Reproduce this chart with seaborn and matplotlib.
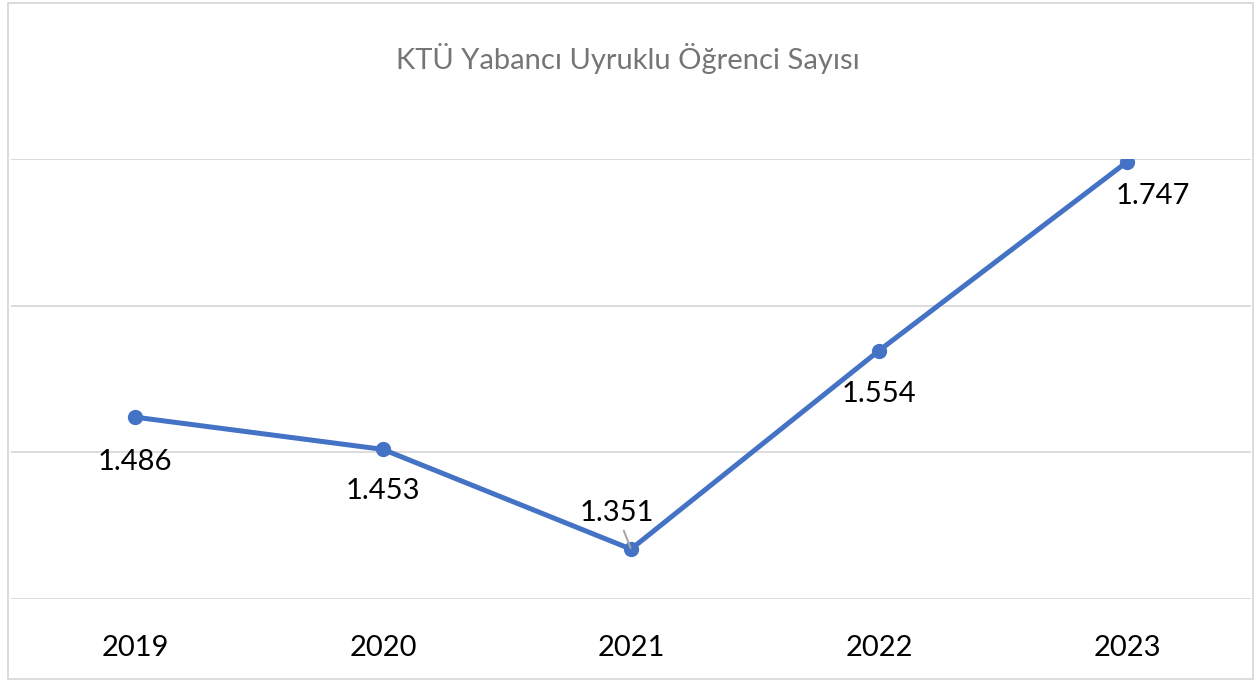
import matplotlib
matplotlib.use("Agg")
import matplotlib.pyplot as plt
import seaborn as sns
import pandas as pd

years = ["2019", "2020", "2021", "2022", "2023"]
students = [1486, 1453, 1351, 1554, 1747]
labels = ["1.486", "1.453", "1.351", "1.554", "1.747"]
title = "KTÜ Yabancı Uyruklu Öğrenci Sayısı"
grid_values = [1300, 1450, 1600, 1750]

sns.set_theme(style="white")
plt.rcParams["font.family"] = ["Lato", "DejaVu Sans"]

df = pd.DataFrame({"Yıl": years, "Öğrenci": students})

fig = plt.figure(figsize=(12.56, 6.82), dpi=100)
ax = fig.add_axes([11 / 1256, 83 / 682, 1240 / 1256, 440 / 682])

sns.lineplot(data=df, x="Yıl", y="Öğrenci", ax=ax, color="#4472C4",
             linewidth=3.6, marker="o", markersize=11, markeredgewidth=0,
             sort=False)

ax.set_xlim(-0.5, len(years) - 0.5)
ax.set_ylim(min(grid_values), max(grid_values))
ax.set_yticks(grid_values)
ax.yaxis.grid(True, color="#D9D9D9", linewidth=1.3)
ax.set_axisbelow(True)
ax.tick_params(axis="y", left=False, labelleft=False)
ax.tick_params(axis="x", bottom=False, labelsize=21, colors="black", pad=20)
ax.set_xlabel("")
ax.set_ylabel("")
for s in ax.spines.values():
    s.set_visible(False)

offsets = [(0, -45), (0, -42), (-14, 36), (0, -43), (26, -34)]
for i, (v, lab) in enumerate(zip(students, labels)):
    dx, dy = offsets[i]
    if i == 2:
        ax.annotate(lab, xy=(i, v), xytext=(dx, dy), textcoords="offset pixels",
                    ha="center", va="center", fontsize=21, color="black",
                    arrowprops=dict(arrowstyle="-", color="#A6A6A6", lw=1.5,
                                    shrinkA=1, shrinkB=1))
    else:
        ax.annotate(lab, xy=(i, v), xytext=(dx, dy), textcoords="offset pixels",
                    ha="center", va="center", fontsize=21, color="black")

fig.text(0.5, 1 - 59 / 682, title, ha="center", va="center",
         fontsize=21, color="#757575")

border = plt.Rectangle((8 / 1256, 3 / 682), 1245 / 1256, 676 / 682,
                       transform=fig.transFigure, fill=False,
                       edgecolor="#D9D9D9", linewidth=1.3)
fig.add_artist(border)

fig.savefig("out.png", dpi=100, facecolor="white")
